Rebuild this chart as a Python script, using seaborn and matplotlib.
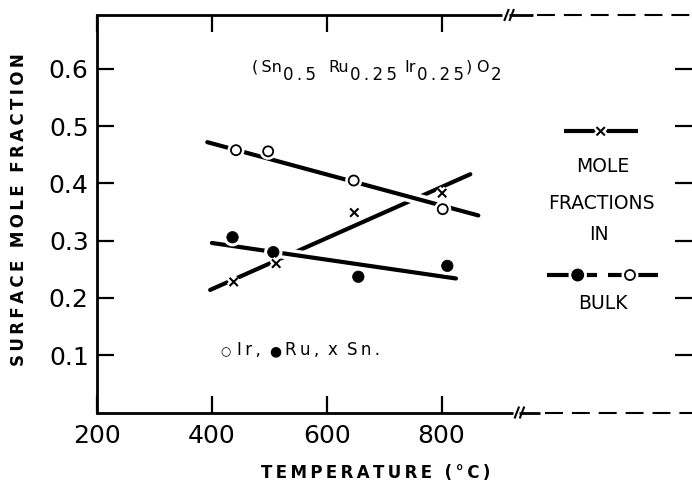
import matplotlib
matplotlib.use("Agg")
import matplotlib.pyplot as plt
import matplotlib.patheffects as pe
import seaborn as sns
import pandas as pd

# ---- data ----
ir_temp = [442, 498, 647, 802]
ir_frac = [0.458, 0.456, 0.405, 0.355]
ru_temp = [436, 507, 655, 810]
ru_frac = [0.306, 0.280, 0.237, 0.256]
sn_temp = [438, 512, 648, 801]
sn_frac = [0.228, 0.260, 0.349, 0.383]

ir_fit_x = [392, 864]
ir_fit_y = [0.472, 0.344]
ru_fit_x = [400, 825]
ru_fit_y = [0.296, 0.234]
sn_fit_x = [397, 850]
sn_fit_y = [0.214, 0.416]

x_ticks = [200, 400, 600, 800]
x_tick_labels = ["200", "400", "600", "800"]
y_ticks = [0.1, 0.2, 0.3, 0.4, 0.5, 0.6]
y_tick_labels = ["0.1", "0.2", "0.3", "0.4", "0.5", "0.6"]

sns.set_style("ticks")
plt.rcParams["font.family"] = ["DejaVu Sans"]
for k in ["text.color", "axes.labelcolor", "xtick.color", "ytick.color", "axes.edgecolor"]:
    plt.rcParams[k] = "black"

W, H = 692, 482
fig = plt.figure(figsize=(W / 100, H / 100), dpi=100)
ax = fig.add_axes([97 / W, 69.5 / H, 595 / W, 397.5 / H])
ax.set_xlim(200, 1236)
ax.set_ylim(0, 0.694)


def px(x, y):
    return x / W, 1 - y / H


lw = 3.0
cut = [pe.Stroke(linewidth=8, foreground="white"), pe.Normal()]
mhalo = [pe.Stroke(linewidth=5, foreground="white"), pe.Normal()]

# fit lines (Sn underneath, others with white border to cut it)
sns.lineplot(x=sn_fit_x, y=sn_fit_y, ax=ax, color="black", lw=lw, zorder=2)
sns.lineplot(x=ru_fit_x, y=ru_fit_y, ax=ax, color="black", lw=lw, zorder=3)
ax.lines[-1].set_path_effects(cut)
sns.lineplot(x=ir_fit_x, y=ir_fit_y, ax=ax, color="black", lw=lw, zorder=4)
ax.lines[-1].set_path_effects(cut)

# points
df_ir = pd.DataFrame({"T": ir_temp, "f": ir_frac})
df_ru = pd.DataFrame({"T": ru_temp, "f": ru_frac})
df_sn = pd.DataFrame({"T": sn_temp, "f": sn_frac})
sns.scatterplot(data=df_ir, x="T", y="f", ax=ax, marker="o", s=52,
                facecolor="white", edgecolor="black", linewidth=1.3, zorder=6)
ax.collections[-1].set_path_effects(mhalo)
sns.scatterplot(data=df_ru, x="T", y="f", ax=ax, marker="o", s=68,
                color="black", edgecolor="black", linewidth=0.5, zorder=6)
ax.collections[-1].set_path_effects(mhalo)
sns.scatterplot(data=df_sn, x="T", y="f", ax=ax, marker="x", s=36,
                color="black", linewidth=1.5, zorder=6)
ax.collections[-1].set_path_effects(mhalo)
ax.set_xlabel("")
ax.set_ylabel("")

# legend glyphs (right panel)
ax.plot([1013, 1142], [0.491, 0.491], color="black", lw=lw, solid_capstyle="butt")
ax.scatter([1077], [0.491], marker="x", s=36, color="black", linewidth=1.5, zorder=6,
           path_effects=mhalo)
ax.plot([983, 1070], [0.240, 0.240], color="black", lw=lw, solid_capstyle="butt")
ax.plot([1090, 1176], [0.240, 0.240], color="black", lw=lw, solid_capstyle="butt")
ax.scatter([1037], [0.240], marker="o", s=68, color="black", zorder=6, path_effects=mhalo)
ax.scatter([1128], [0.240], marker="o", s=52, facecolor="white", edgecolor="black",
           linewidth=1.3, zorder=6, path_effects=mhalo)

ax.text(1081, 0.429, "MOLE", ha="center", va="center", fontsize=13.5)
ax.text(1079, 0.365, "FRACTIONS", ha="center", va="center", fontsize=13.5)
ax.text(1074, 0.310, "IN", ha="center", va="center", fontsize=13.5)
ax.text(1081, 0.191, "BULK", ha="center", va="center", fontsize=13.5)

sp = "\u2009"

def spaced(s):
    return sp.join(list(s))

# composition title, built from pieces (subscripts as large as main text)
fig.canvas.draw()
rend = fig.canvas.get_renderer()
main_base, sub_base = 72, 80
title_parts = [("(" + sp + "Sn", 11.5, main_base, 1), (spaced("0.5"), 12, sub_base, 12),
               ("Ru", 11.5, main_base, 1), (spaced("0.25"), 12, sub_base, 8),
               ("Ir", 11.5, main_base, 1), (spaced("0.25"), 12, sub_base, 2),
               (")", 11.5, main_base, 4), ("O", 11.5, main_base, 2), ("2", 12, sub_base, 0)]
xcur = 252
for txt, fs, base, gap in title_parts:
    t = fig.text(*px(xcur, base), txt, ha="left", va="baseline", fontsize=fs)
    bb = t.get_window_extent(renderer=rend)
    xcur = bb.x1 + gap

# symbol note
note_parts = [("○", 220, 8.5), (spaced("Ir,"), 236.7, 12), ("●", 269, 10),
              (spaced("Ru,"), 285, 12), ("x", 328, 12), (spaced("Sn."), 346.7, 12)]
for txt, xx, fs in note_parts:
    fig.text(*px(xx, 355), txt, ha="left", va="baseline", fontsize=fs)

# spines: left solid; top/bottom solid with break and dashed continuation
for s in ["top", "bottom", "right"]:
    ax.spines[s].set_visible(False)
ax.spines["left"].set_linewidth(2)
trans = ax.get_xaxis_transform()
kw = dict(color="black", transform=trans, clip_on=False, solid_capstyle="butt")
# top
ax.plot([200, 905], [1, 1], lw=2, **kw)
ax.plot([917, 959], [1, 1], lw=2, **kw)
ax.plot([966, 1236], [1, 1], lw=1.5, dashes=(8.6, 4.3), **kw)
for xc in [913, 922]:
    ax.plot([xc - 4, xc + 4], [0.985, 1.015], lw=1.5, **kw)
# bottom
ax.plot([200, 924], [0, 0], lw=2, **kw)
ax.plot([935, 971], [0, 0], lw=2, **kw)
ax.plot([980, 1236], [0, 0], lw=1.5, dashes=(8.6, 4.3), **kw)
for xc in [931, 940]:
    ax.plot([xc - 4, xc + 4], [-0.015, 0.015], lw=1.5, **kw)

ax.set_xticks(x_ticks)
ax.set_xticklabels(x_tick_labels)
ax.set_yticks(y_ticks)
ax.set_yticklabels(y_tick_labels)
ax.tick_params(axis="both", direction="in", length=12, width=1.6, top=True, right=True,
               labelsize=18, color="black", labelcolor="black")
ax.tick_params(axis="x", pad=8)
ax.tick_params(axis="y", pad=6)

fig.text(*px(19, 210), spaced("SURFACE MOLE FRACTION"), rotation=90, ha="center",
         va="center", fontsize=12, fontweight="bold")
fig.text(*px(376, 473), spaced("TEMPERATURE (°C)"), ha="center", va="center",
         fontsize=12, fontweight="bold")

fig.savefig("out.png", dpi=100)
